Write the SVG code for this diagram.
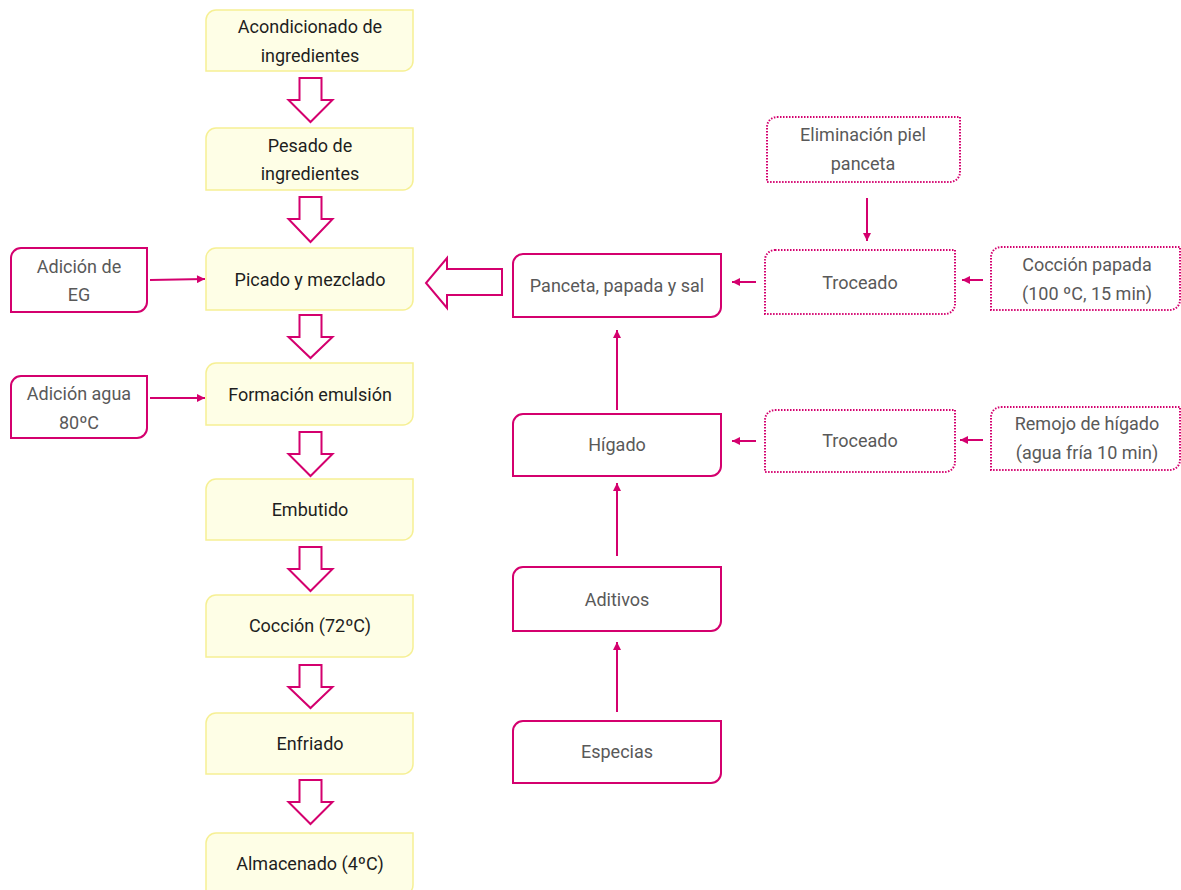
<svg xmlns="http://www.w3.org/2000/svg" width="1181" height="890" viewBox="0 0 1181 890">
<defs>
<style>
.yb{fill:#fefee6;stroke:#f6f094;stroke-width:1.5}
.pb{fill:#ffffff;stroke:#d4006e;stroke-width:2}
.db{fill:#ffffff;stroke:#d4006e;stroke-width:2;stroke-dasharray:1.5 1.5}
.ha{fill:#ffffff;stroke:#d4006e;stroke-width:2;stroke-linejoin:miter}
.ln{fill:none;stroke:#d4006e;stroke-width:2;marker-end:url(#ah)}
.ty{font-family:Roboto,"Liberation Sans",sans-serif;font-size:18px;fill:#1e1e1e;text-anchor:middle}
.tp{font-family:Roboto,"Liberation Sans",sans-serif;font-size:18px;fill:#595959;text-anchor:middle}
</style>
<marker id="ah" viewBox="0 0 10 10" refX="10" refY="5" markerWidth="9" markerHeight="8" markerUnits="userSpaceOnUse" orient="auto">
<path d="M0,0 L10,5 L0,10 z" fill="#d4006e"/>
</marker>
</defs>
<rect width="1181" height="890" fill="#ffffff"/>

<!-- main column -->
<g id="n1"><path class="yb" d="M216,10 H413 V61 A10,10 0 0 1 403,71 H206 V20 A10,10 0 0 1 216,10 Z"/><text class="ty" x="310" y="33">Acondicionado de</text><text class="ty" x="310" y="62">ingredientes</text></g>
<g id="n2"><path class="yb" d="M216,128 H413 V180 A10,10 0 0 1 403,190 H206 V138 A10,10 0 0 1 216,128 Z"/><text class="ty" x="310" y="152">Pesado de</text><text class="ty" x="310" y="180">ingredientes</text></g>
<g id="n3"><path class="yb" d="M216,248 H413 V300 A10,10 0 0 1 403,310 H206 V258 A10,10 0 0 1 216,248 Z"/><text class="ty" x="310" y="286">Picado y mezclado</text></g>
<g id="n4"><path class="yb" d="M216,363 H413 V415 A10,10 0 0 1 403,425 H206 V373 A10,10 0 0 1 216,363 Z"/><text class="ty" x="310" y="401">Formación emulsión</text></g>
<g id="n5"><path class="yb" d="M216,479 H413 V530 A10,10 0 0 1 403,540 H206 V489 A10,10 0 0 1 216,479 Z"/><text class="ty" x="310" y="516">Embutido</text></g>
<g id="n6"><path class="yb" d="M216,595 H413 V647 A10,10 0 0 1 403,657 H206 V605 A10,10 0 0 1 216,595 Z"/><text class="ty" x="310" y="632">Cocción (72ºC)</text></g>
<g id="n7"><path class="yb" d="M216,713 H413 V764 A10,10 0 0 1 403,774 H206 V723 A10,10 0 0 1 216,713 Z"/><text class="ty" x="310" y="750">Enfriado</text></g>
<g id="n8"><path class="yb" d="M216,833 H413 V885 A10,10 0 0 1 403,895 H206 V843 A10,10 0 0 1 216,833 Z"/><text class="ty" x="310" y="870">Almacenado (4ºC)</text></g>

<!-- left additions -->
<g id="eg"><path class="pb" d="M21,248 H147 V302 A10,10 0 0 1 137,312 H11 V258 A10,10 0 0 1 21,248 Z"/><text class="tp" x="79" y="273">Adición de</text><text class="tp" x="79" y="301">EG</text></g>
<g id="agua"><path class="pb" d="M21,376 H147 V428 A10,10 0 0 1 137,438 H11 V386 A10,10 0 0 1 21,376 Z"/><text class="tp" x="79" y="400">Adición agua</text><text class="tp" x="79" y="429">80ºC</text></g>

<!-- right column -->
<g id="panceta"><path class="pb" d="M523,254 H721 V307 A10,10 0 0 1 711,317 H513 V264 A10,10 0 0 1 523,254 Z"/><text class="tp" x="617" y="292">Panceta, papada y sal</text></g>
<g id="higado"><path class="pb" d="M523,414 H721 V466 A10,10 0 0 1 711,476 H513 V424 A10,10 0 0 1 523,414 Z"/><text class="tp" x="617" y="451">Hígado</text></g>
<g id="aditivos"><path class="pb" d="M523,567 H721 V621 A10,10 0 0 1 711,631 H513 V577 A10,10 0 0 1 523,567 Z"/><text class="tp" x="617" y="606">Aditivos</text></g>
<g id="especias"><path class="pb" d="M523,721 H721 V773 A10,10 0 0 1 711,783 H513 V731 A10,10 0 0 1 523,721 Z"/><text class="tp" x="617" y="758">Especias</text></g>

<!-- dotted boxes -->
<g id="elim"><path class="db" d="M777,117 H960 V172 A10,10 0 0 1 950,182 H767 V127 A10,10 0 0 1 777,117 Z"/><text class="tp" x="863" y="141">Eliminación piel</text><text class="tp" x="863" y="170">panceta</text></g>
<g id="troceado1"><path class="db" d="M775,250 H955 V304 A10,10 0 0 1 945,314 H765 V260 A10,10 0 0 1 775,250 Z"/><text class="tp" x="860" y="289">Troceado</text></g>
<g id="coccionpapada"><path class="db" d="M1001,247 H1180 V300 A10,10 0 0 1 1170,310 H991 V257 A10,10 0 0 1 1001,247 Z"/><text class="tp" x="1087" y="271">Cocción papada</text><text class="tp" x="1087" y="300">(100 ºC, 15 min)</text></g>
<g id="troceado2"><path class="db" d="M775,410 H955 V462 A10,10 0 0 1 945,472 H765 V420 A10,10 0 0 1 775,410 Z"/><text class="tp" x="860" y="447">Troceado</text></g>
<g id="remojo"><path class="db" d="M1001,407 H1180 V460 A10,10 0 0 1 1170,470 H991 V417 A10,10 0 0 1 1001,407 Z"/><text class="tp" x="1087" y="430">Remojo de hígado</text><text class="tp" x="1087" y="459">(agua fría 10 min)</text></g>

<!-- connectors -->
<g id="connectors">
<polygon class="ha" points="299.5,78 321.5,78 321.5,100 332.5,100 310.5,122 288.5,100 299.5,100"/>
<polygon class="ha" points="299.5,197 321.5,197 321.5,219 332.5,219 310.5,242 288.5,219 299.5,219"/>
<polygon class="ha" points="299.5,315 321.5,315 321.5,337 332.5,337 310.5,358 288.5,337 299.5,337"/>
<polygon class="ha" points="299.5,432 321.5,432 321.5,454 332.5,454 310.5,476 288.5,454 299.5,454"/>
<polygon class="ha" points="299.5,547 321.5,547 321.5,569 332.5,569 310.5,591 288.5,569 299.5,569"/>
<polygon class="ha" points="299.5,665 321.5,665 321.5,687 332.5,687 310.5,708 288.5,687 299.5,687"/>
<polygon class="ha" points="299.5,780 321.5,780 321.5,802 332.5,802 310.5,824 288.5,802 299.5,802"/>
<polygon class="ha" points="502,269 502,295 447,295 447,308 426,283 447,258 447,269"/>
<line class="ln" x1="150" y1="280" x2="205" y2="279"/>
<line class="ln" x1="150" y1="398" x2="205" y2="398"/>
<line class="ln" x1="756" y1="282" x2="732" y2="282"/>
<line class="ln" x1="983" y1="280" x2="962" y2="280"/>
<line class="ln" x1="867" y1="198" x2="867" y2="241"/>
<line class="ln" x1="756" y1="441" x2="732" y2="441"/>
<line class="ln" x1="983" y1="440" x2="960" y2="440"/>
<line class="ln" x1="617" y1="410" x2="617" y2="330"/>
<line class="ln" x1="617" y1="556" x2="617" y2="483"/>
<line class="ln" x1="617" y1="712" x2="617" y2="642"/>
</g>
</svg>
